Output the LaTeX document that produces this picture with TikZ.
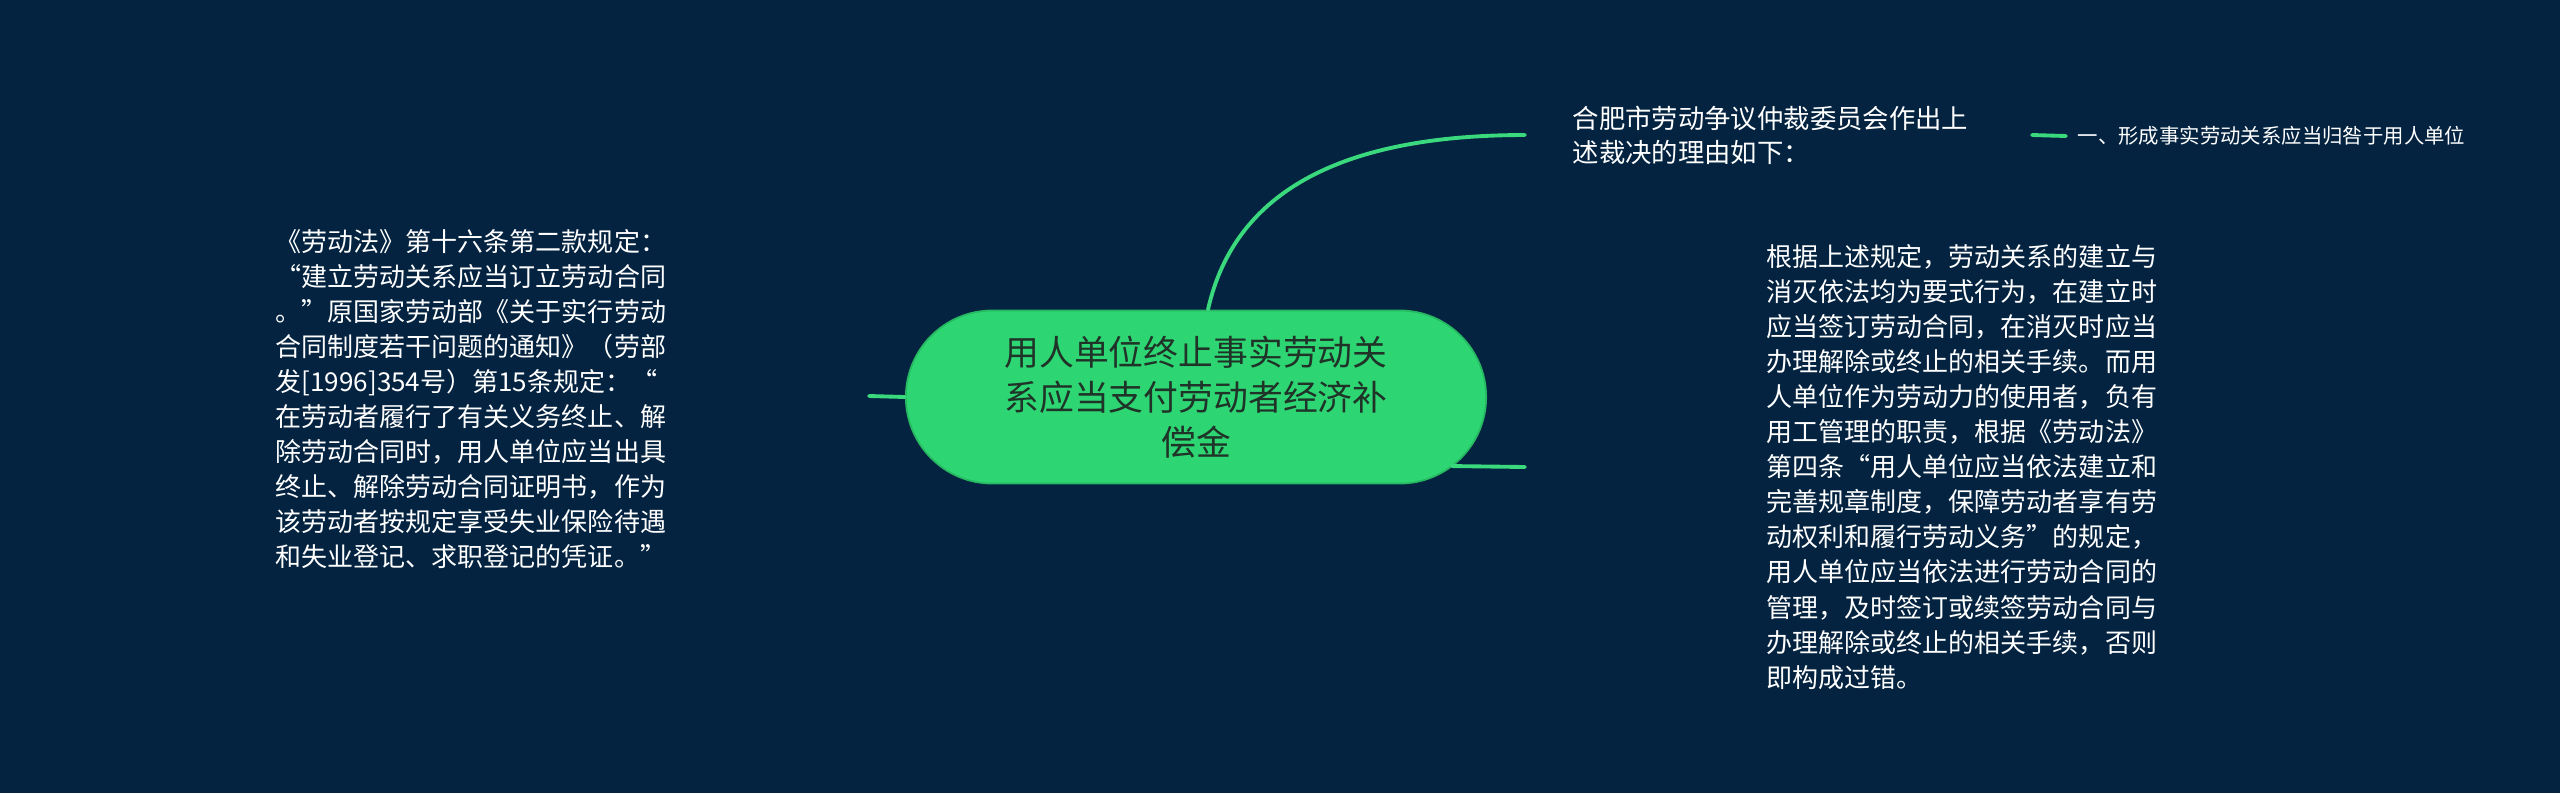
\documentclass[tikz,border=0pt]{standalone}
\usepackage{fontspec}
\setmainfont{Noto Sans CJK SC}
\usetikzlibrary{positioning}
\definecolor{bgnavy}{HTML}{032340}
\definecolor{hubgreen}{HTML}{2ED673}
\definecolor{hubedge}{HTML}{27B862}
\definecolor{hubtext}{HTML}{1F3328}
\definecolor{linkgreen}{HTML}{3BD97D}
\begin{document}
\begin{tikzpicture}[x=0.01cm,y=-0.01cm,
    hub/.style={rectangle, rounded corners=0.865cm, fill=hubgreen, draw=hubedge,
      line width=0.5pt, minimum width=5.8cm, minimum height=1.73cm, text=hubtext,
      align=center, font=\fontsize{9.9pt}{12.8pt}\selectfont},
    note/.style={text=white, align=left, inner sep=0pt,
      font=\fontsize{7.4pt}{9.96pt}\selectfont},
    branch/.style={draw=linkgreen, line width=1.1pt, line cap=round}]
  \fill[bgnavy] (0,0) rectangle (2560,793);
  \useasboundingbox (0,0) rectangle (2560,793);

  \node[hub] (hub) at (1196,397) {用人单位终止事实劳动关\\系应当支付劳动者经济补\\偿金};
  \node[note, anchor=west, font=\fontsize{7.5pt}{9.7pt}\selectfont] (verdict) at (1572,135)
    {合肥市劳动争议仲裁委员会作出上\\述裁决的理由如下：};
  \node[note, anchor=west, font=\fontsize{5.8pt}{7pt}\selectfont] (point) at (2077,136)
    {一、形成事实劳动关系应当归咎于用人单位};
  \node[note, anchor=west] (lawnote) at (275,399)
    {《劳动法》第十六条第二款规定：\\
     “建立劳动关系应当订立劳动合同\\
     。”原国家劳动部《关于实行劳动\\
     合同制度若干问题的通知》（劳部\\
     发[1996]354号）第15条规定：“\\
     在劳动者履行了有关义务终止、解\\
     除劳动合同时，用人单位应当出具\\
     终止、解除劳动合同证明书，作为\\
     该劳动者按规定享受失业保险待遇\\
     和失业登记、求职登记的凭证。”};
  \node[note, anchor=west] (reason) at (1766,467)
    {根据上述规定，劳动关系的建立与\\
     消灭依法均为要式行为，在建立时\\
     应当签订劳动合同，在消灭时应当\\
     办理解除或终止的相关手续。而用\\
     人单位作为劳动力的使用者，负有\\
     用工管理的职责，根据《劳动法》\\
     第四条“用人单位应当依法建立和\\
     完善规章制度，保障劳动者享有劳\\
     动权利和履行劳动义务”的规定，\\
     用人单位应当依法进行劳动合同的\\
     管理，及时签订或续签劳动合同与\\
     办理解除或终止的相关手续，否则\\
     即构成过错。};

  % free ends of the branches
  \coordinate (lefttip) at (869,396);
  \coordinate (toptip) at (1525,135);
  \coordinate (lowtip) at (1525,467);

  \draw[branch] (hub.west) -- (lefttip);
  \draw[branch] ([xshift=0.12cm]hub.north) .. controls (1238,175) and (1370,135) .. (toptip);
  \draw[branch] ([xshift=2.56cm,yshift=-0.69cm]hub.center) -- (lowtip);
  \draw[branch] ([xshift=0.63cm]verdict.east) -- ([xshift=-0.11cm]point.west);
\end{tikzpicture}
\end{document}
